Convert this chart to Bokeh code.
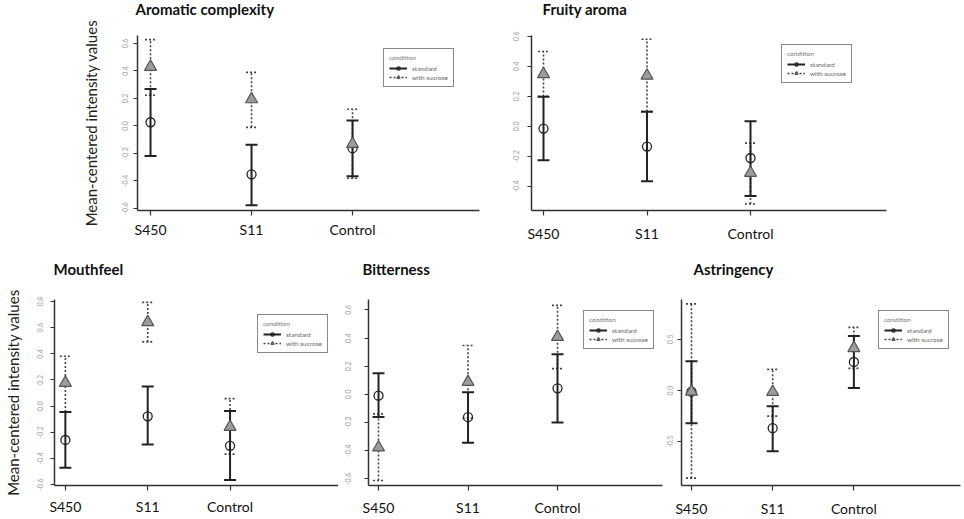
from bokeh.plotting import figure
from bokeh.layouts import row, column
from bokeh.models import (Range1d, FixedTicker, PrintfTickFormatter, ColumnDataSource,
                          Legend, LegendItem, Label)
from bokeh.embed import file_html
from bokeh.resources import INLINE

FONT = "Lato"

categories = ["S450", "S11", "Control"]

# Aromatic complexity
arom_std = [0.027, -0.352, -0.162]
arom_std_lo = [-0.218, -0.577, -0.366]
arom_std_hi = [0.269, -0.136, 0.039]
arom_suc = [0.43, 0.194, -0.131]
arom_suc_lo = [0.223, -0.01, -0.38]
arom_suc_hi = [0.628, 0.39, 0.121]

# Fruity aroma
fruit_std = [-0.015, -0.135, -0.211]
fruit_std_lo = [-0.226, -0.366, -0.465]
fruit_std_hi = [0.198, 0.097, 0.034]
fruit_suc = [0.348, 0.338, -0.31]
fruit_suc_lo = [0.2, 0.1, -0.518]
fruit_suc_hi = [0.499, 0.581, -0.112]

# Mouthfeel
mouth_std = [-0.259, -0.078, -0.304]
mouth_std_lo = [-0.472, -0.294, -0.565]
mouth_std_hi = [-0.045, 0.15, -0.038]
mouth_suc = [0.178, 0.642, -0.159]
mouth_suc_lo = [-0.045, 0.491, -0.367]
mouth_suc_hi = [0.381, 0.793, 0.057]

# Bitterness
bitter_std = [-0.009, -0.162, 0.043]
bitter_std_lo = [-0.16, -0.343, -0.2]
bitter_std_hi = [0.151, 0.016, 0.286]
bitter_suc = [-0.377, 0.088, 0.408]
bitter_suc_lo = [-0.611, -0.17, 0.183]
bitter_suc_hi = [-0.138, 0.347, 0.632]

# Astringency
astr_std = [-0.011, -0.368, 0.279]
astr_std_lo = [-0.32, -0.595, 0.024]
astr_std_hi = [0.285, -0.153, 0.532]
astr_suc = [-0.011, -0.014, 0.415]
astr_suc_lo = [-0.857, -0.251, 0.216]
astr_suc_hi = [0.847, 0.207, 0.617]

ticks_02_a = [-0.6, -0.4, -0.2, 0.0, 0.2, 0.4, 0.6]
ticks_02_b = [-0.4, -0.2, 0.0, 0.2, 0.4, 0.6]
ticks_02_c = [-0.6, -0.4, -0.2, 0.0, 0.2, 0.4, 0.6, 0.8]
ticks_05 = [-0.5, 0.0, 0.5]

titles = ["Aromatic complexity", "Fruity aroma", "Mouthfeel", "Bitterness", "Astringency"]
YLABEL = "Mean-centered intensity values"
legend_title = "condition"
legend_labels = ["standard", "with sucrose"]


def make_title(text, width, height, x, y):
    t = figure(width=width, height=height, output_backend="svg", toolbar_location=None,
               x_range=Range1d(0, 1), y_range=Range1d(0, 1),
               x_axis_location=None, y_axis_location=None,
               min_border_left=0, min_border_right=0, min_border_top=0, min_border_bottom=0)
    t.outline_line_color = None
    t.grid.visible = False
    t.add_layout(Label(x=x, y=y, x_units="screen", y_units="screen",
                       text=text, text_font=FONT, text_font_size="15px",
                       text_font_style="bold", text_color="#111111",
                       text_align="left", text_baseline="middle"))
    return t


def make_panel(std, std_lo, std_hi, suc, suc_lo, suc_hi, yticks, *,
               width, height, border, xr, yr,
               xlab_standoff, ytick_standoff, ylabel=None, ylabel_standoff=10,
               legend_loc=(0, 0)):
    left, right, top, bottom = border
    p = figure(width=width, height=height, output_backend="svg", toolbar_location=None,
               x_range=Range1d(*xr), y_range=Range1d(*yr),
               min_border_left=left, min_border_right=right,
               min_border_top=top, min_border_bottom=bottom)
    p.outline_line_color = None
    p.grid.visible = False
    p.background_fill_color = "white"
    p.border_fill_color = "white"

    xs = [i + 1 for i in range(len(categories))]

    # x axis
    p.xaxis.ticker = FixedTicker(ticks=xs)
    p.xaxis.major_label_overrides = {x: c for x, c in zip(xs, categories)}
    p.xaxis.major_label_text_font = FONT
    p.xaxis.major_label_text_font_size = "14px"
    p.xaxis.major_label_text_color = "#111111"
    p.xaxis.major_label_standoff = xlab_standoff
    p.xaxis.major_tick_in = 0
    p.xaxis.major_tick_out = 5
    p.xaxis.minor_tick_line_color = None
    p.xaxis.axis_line_width = 1.5
    p.xaxis.axis_line_color = "#333333"
    p.xaxis.major_tick_line_color = "#333333"
    p.xaxis.major_tick_line_width = 1.2

    # y axis
    p.yaxis.ticker = FixedTicker(ticks=yticks)
    p.yaxis.formatter = PrintfTickFormatter(format="%.1f")
    p.yaxis.major_label_orientation = "vertical"
    p.yaxis.major_label_text_font = FONT
    p.yaxis.major_label_text_font_size = "7px"
    p.yaxis.major_label_text_color = "#a0a0a0"
    p.yaxis.major_label_standoff = ytick_standoff
    p.yaxis.major_tick_in = 0
    p.yaxis.major_tick_out = 4
    p.yaxis.minor_tick_line_color = None
    p.yaxis.axis_line_width = 1.5
    p.yaxis.axis_line_color = "#333333"
    p.yaxis.major_tick_line_color = "#333333"
    p.yaxis.major_tick_line_width = 1.2
    if ylabel:
        p.yaxis.axis_label = ylabel
        p.yaxis.axis_label_text_font = FONT
        p.yaxis.axis_label_text_font_size = "15px"
        p.yaxis.axis_label_text_font_style = "normal"
        p.yaxis.axis_label_text_color = "#222222"
        p.yaxis.axis_label_standoff = ylabel_standoff

    src_std = ColumnDataSource(dict(x=xs, y=std, lo=std_lo, hi=std_hi))
    src_suc = ColumnDataSource(dict(x=xs, y=suc, lo=suc_lo, hi=suc_hi))

    # sucrose (dotted) error bars with caps
    seg_suc = p.segment(x0="x", y0="lo", x1="x", y1="hi", source=src_suc,
                        line_color="#444444", line_width=1.6, line_dash="2 2")
    for col in ("lo", "hi"):
        p.scatter("x", col, source=src_suc, marker="dash", size=11,
                  line_color="#444444", line_width=1.6, line_dash="2 2")
    # standard (solid) error bars with caps
    seg_std = p.segment(x0="x", y0="lo", x1="x", y1="hi", source=src_std,
                        line_color="#222222", line_width=2)
    for col in ("lo", "hi"):
        p.scatter("x", col, source=src_std, marker="dash", size=12,
                  line_color="#222222", line_width=2)

    pt_std = p.scatter("x", "y", source=src_std, marker="circle", size=9,
                       fill_color=None, line_color="#222222", line_width=1.3)
    pt_suc = p.scatter("x", "y", source=src_suc, marker="triangle", size=12,
                       fill_color="#9c9c9c", line_color="#555555", line_width=1.2)

    leg = Legend(items=[LegendItem(label=legend_labels[0], renderers=[seg_std, pt_std]),
                        LegendItem(label=legend_labels[1], renderers=[seg_suc, pt_suc])],
                 title=legend_title, location=legend_loc)
    leg.title_text_font = FONT
    leg.title_text_font_size = "6.5px"
    leg.title_text_font_style = "normal"
    leg.title_text_color = "#777777"
    leg.title_standoff = 3
    leg.label_text_font = FONT
    leg.label_text_font_size = "6.5px"
    leg.label_text_color = "#666666"
    leg.label_height = 8
    leg.label_standoff = 5
    leg.glyph_width = 18
    leg.glyph_height = 8
    leg.spacing = 1
    leg.padding = 5
    leg.margin = 0
    leg.border_line_color = "#111111"
    leg.border_line_width = 1.5
    leg.background_fill_color = "white"
    leg.background_fill_alpha = 1
    p.add_layout(leg)
    return p


TITLE_H = 18
TOP_H = 242
BOT_H = 241

t1 = make_title(titles[0], 480, TITLE_H, 135, 9.5)
t2 = make_title(titles[1], 484, TITLE_H, 62, 9.5)
t3 = make_title(titles[2], 338, TITLE_H, 53, 10)
t4 = make_title(titles[3], 326, TITLE_H, 24, 10)
t5 = make_title(titles[4], 300, TITLE_H, 29, 10)

p1 = make_panel(arom_std, arom_std_lo, arom_std_hi,
                arom_suc, arom_suc_lo, arom_suc_hi, ticks_02_a,
                width=480, height=TOP_H, border=(137, 1, 17, 50),
                xr=(0.871, 4.257), yr=(-0.615, 0.658),
                xlab_standoff=5, ytick_standoff=5,
                ylabel=YLABEL, ylabel_standoff=20, legend_loc=(246, 123))

p2 = make_panel(fruit_std, fruit_std_lo, fruit_std_hi,
                fruit_suc, fruit_suc_lo, fruit_suc_hi, ticks_02_b,
                width=484, height=TOP_H, border=(51, 78, 12, 49),
                xr=(0.884, 4.314), yr=(-0.561, 0.606),
                xlab_standoff=9, ytick_standoff=8,
                legend_loc=(250, 127))

p3 = make_panel(mouth_std, mouth_std_lo, mouth_std_hi,
                mouth_suc, mouth_suc_lo, mouth_suc_hi, ticks_02_c,
                width=338, height=BOT_H, border=(50, 0, 21, 31),
                xr=(0.868, 4.317), yr=(-0.607, 0.815),
                xlab_standoff=7, ytick_standoff=7,
                ylabel=YLABEL, ylabel_standoff=13, legend_loc=(203, 132))

p4 = make_panel(bitter_std, bitter_std_lo, bitter_std_hi,
                bitter_suc, bitter_suc_lo, bitter_suc_hi, ticks_02_a,
                width=326, height=BOT_H, border=(30, 2, 15, 30),
                xr=(0.888, 4.173), yr=(-0.647, 0.674),
                xlab_standoff=8, ytick_standoff=13,
                legend_loc=(215, 136))

p5 = make_panel(astr_std, astr_std_lo, astr_std_hi,
                astr_suc, astr_suc_lo, astr_suc_hi, ticks_05,
                width=300, height=BOT_H, border=(16, 4, 18, 32),
                xr=(0.877, 4.313), yr=(-0.929, 0.890),
                xlab_standoff=9, ytick_standoff=4,
                legend_loc=(197, 136))

layout = column(row(t1, t2, spacing=0), row(p1, p2, spacing=0),
                row(t3, t4, t5, spacing=0), row(p3, p4, p5, spacing=0), spacing=0)

open("out.html", "w").write(file_html(layout, INLINE))
